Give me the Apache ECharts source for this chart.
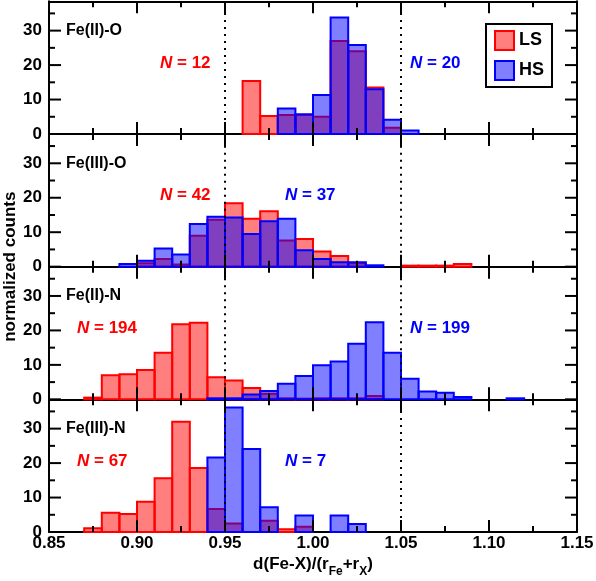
<!DOCTYPE html>
<html><head><meta charset="utf-8">
<script src="https://cdn.jsdelivr.net/npm/echarts@6.0.0/dist/echarts.min.js"></script>
<style>html,body{margin:0;padding:0;background:#fff}#c{width:596px;height:581px}</style>
</head><body><div id="c"></div>
<script>
// ---------------- data ----------------
const binWidth = 0.01;
const binLeft = [0.87,0.88,0.89,0.90,0.91,0.92,0.93,0.94,0.95,0.96,0.97,0.98,0.99,1.00,1.01,1.02,1.03,1.04,1.05,1.06,1.07,1.08,1.09,1.10,1.11];
// Fe(II)-O
const lsFeIIO   = [0,0,0,0,0,0,0,0,0,15.4,5.2,5.5,5.5,5.0,27.0,24.0,13.5,1.8,0,0,0,0,0,0,0];
const hsFeIIO   = [0,0,0,0,0,0,0,0,0,0,0,7.4,5.7,11.3,33.8,25.8,13.0,4.1,1.0,0,0,0,0,0,0];
// Fe(III)-O
const lsFeIIIO  = [0,0,0,1.0,2.2,0.6,9.0,13.6,18.4,13.9,16.1,7.6,8.0,4.4,3.1,1.0,0,0,0.3,0.3,0.3,0.8,0,0,0];
const hsFeIIIO  = [0,0,0.8,1.7,5.3,3.5,12.4,14.5,14.3,9.5,13.2,13.9,4.8,2.2,1.3,1.3,0.4,0,0,0,0,0,0,0,0];
// Fe(II)-N
const lsFeIIN   = [0.5,7.0,7.3,8.5,13.5,21.8,22.2,6.4,5.5,3.3,1.6,0.3,0.2,0.3,0.3,0.3,1.0,0,0,0,0,0,0,0,0];
const hsFeIIN   = [0,0,0,0,0,0,0,0.3,0.3,1.4,2.4,4.5,6.8,9.9,11.0,16.1,22.4,13.5,6.0,2.3,1.9,0.7,0,0,0.3];
// Fe(III)-N
const lsFeIIIN  = [1.1,5.6,5.2,8.8,15.6,32.0,18.6,6.7,2.5,0,3.3,0.8,1.5,0,0,0,0,0,0,0,0,0,0,0,0];
const hsFeIIIN  = [0,0,0,0,0,0,0,21.6,36.1,24.1,7.2,0,4.8,0,4.8,2.3,0,0,0,0,0,0,0,0,0];

const panelNames = ['Fe(II)-O','Fe(III)-O','Fe(II)-N','Fe(III)-N'];
const nLS = [12, 42, 194, 67];
const nHS = [20, 37, 199, 7];
const seriesNames = ['LS','HS'];
const xTicks = [0.85,0.90,0.95,1.00,1.05,1.10,1.15];
const xMinorTicks = [0.875,0.925,0.975,1.025,1.075,1.125];
const yTicks = [0,10,20,30];
const yMinorTicks = [5,15,25,35];
const guideLines = [0.95, 1.05];
const yMax = 38.5;
const xTitleRich = '{a|d(Fe-X)/(r}{s|Fe}{a|+r}{s|X}{a|)}';
const yTitle = 'normalized counts';

const lsPanels = [lsFeIIO, lsFeIIIO, lsFeIIN, lsFeIIIN];
const hsPanels = [hsFeIIO, hsFeIIIO, hsFeIIN, hsFeIIIN];

// ---------------- layout ----------------
const FONT = 'Liberation Sans';
const LEFT = 49, RIGHTX = 577, W = RIGHTX - LEFT;
const TOP0 = 1.33, PH = 132.67;
const LS_FILL = 'rgba(255,0,0,0.5)', LS_LINE = '#ff0000';
const HS_FILL = 'rgba(0,0,255,0.5)', HS_LINE = '#0000ff';
const MAJOR_LEN = 12, MINOR_LEN = 6;

const chart = echarts.init(document.getElementById('c'), null, {renderer:'canvas'});
const lineSt = {color:'#000', width:2};
const grids = [], xAxes = [], yAxes = [], series = [], titles = [];

function histSeries(name, values, fill, stroke, xi, yi) {
  return {
    name, type:'custom', xAxisIndex:xi, yAxisIndex:yi, coordinateSystem:'cartesian2d',
    encode:{x:0, y:1}, silent:true, animation:false,
    itemStyle:{color:fill, borderColor:stroke, borderWidth:2},
    data: binLeft.map((b,k)=>[b, values[k]]).filter(d=>d[1] > 0),
    renderItem(p, api) {
      const a = api.coord([api.value(0), 0]);
      const b = api.coord([api.value(0) + binWidth, api.value(1)]);
      return {type:'rect', shape:{x:a[0], y:b[1], width:b[0]-a[0], height:a[1]-b[1]},
        style:{fill, stroke, lineWidth:2}};
    }
  };
}

// tick marks on all four sides of a panel, placed through the axes' scales
// rows: [value, kind]  kind 0 = x major, 1 = x minor, 2 = y major, 3 = y minor
const tickRows = [].concat(
  xTicks.map(v=>[v,0]), xMinorTicks.map(v=>[v,1]),
  yTicks.map(v=>[v,2]), yMinorTicks.map(v=>[v,3]));
function tickSeries(xi, yi) {
  const xMin = xTicks[0], xMax = xTicks[xTicks.length-1];
  return {
    type:'custom', xAxisIndex:xi, yAxisIndex:yi, z:11, silent:true, animation:false, clip:false,
    data: tickRows, encode:{x:0},
    renderItem(p, api) {
      const v = api.value(0), kind = api.value(1);
      const len = (kind === 0 || kind === 2) ? MAJOR_LEN : MINOR_LEN;
      const st = {stroke:'#000', lineWidth:2};
      if (kind < 2) {
        const b = api.coord([v, 0]), t = api.coord([v, yMax]);
        return {type:'group', children:[
          {type:'line', shape:{x1:b[0], y1:b[1], x2:b[0], y2:b[1]-len}, style:st},
          {type:'line', shape:{x1:t[0], y1:t[1], x2:t[0], y2:t[1]+len}, style:st}]};
      }
      const l = api.coord([xMin, v]), r = api.coord([xMax, v]);
      return {type:'group', children:[
        {type:'line', shape:{x1:l[0], y1:l[1], x2:l[0]+len, y2:l[1]}, style:st},
        {type:'line', shape:{x1:r[0], y1:r[1], x2:r[0]-len, y2:r[1]}, style:st}]};
    }
  };
}

for (let i = 0; i < 4; i++) {
  const top = TOP0 + i*PH;
  grids.push({left:LEFT, top, width:W, height:PH, containLabel:false, outerBoundsMode:'none'});
  const baseX = {gridIndex:i, type:'value', min:xTicks[0], max:xTicks[xTicks.length-1], interval:0.05,
    splitLine:{show:false}, axisLine:{show:true, onZero:false, lineStyle:lineSt},
    axisTick:{show:false}, minorTick:{show:false}, minorSplitLine:{show:false}};
  const bottomX = Object.assign({}, baseX, {position:'bottom',
    axisLabel:{show:true, color:'#000', fontFamily:FONT, fontWeight:'bold', fontSize:17, margin:3,
      formatter:(v)=> i === 3 ? v.toFixed(2) : ''}});
  if (i === 3) {
    Object.assign(bottomX, {name:xTitleRich, nameLocation:'middle', nameGap:24,
      nameTextStyle:{verticalAlign:'top', rich:{
        a:{fontSize:17, fontWeight:'bold', fontFamily:FONT, color:'#000', lineHeight:20, verticalAlign:'top'},
        s:{fontSize:12, fontWeight:'bold', fontFamily:FONT, color:'#000', lineHeight:14, padding:[10,0,0,0], verticalAlign:'top'}
      }}});
  }
  xAxes.push(bottomX);
  xAxes.push(Object.assign({}, baseX, {position:'top', axisLabel:{show:true, formatter:()=>''}}));
  const baseY = {gridIndex:i, type:'value', min:yTicks[0], max:yMax, interval:10, splitLine:{show:false},
    axisLine:{show:true, onZero:false, lineStyle:lineSt}, axisTick:{show:false}};
  yAxes.push(Object.assign({}, baseY, {position:'left',
    axisLabel:{show:true, color:'#000', fontFamily:FONT, fontWeight:'bold', fontSize:17, margin:7,
      showMaxLabel:false, formatter:(v)=>yTicks.indexOf(v) >= 0 ? String(v) : ''}}));
  yAxes.push(Object.assign({}, baseY, {position:'right', axisLabel:{show:false}}));

  series.push(histSeries(seriesNames[0], lsPanels[i], LS_FILL, LS_LINE, 2*i, 2*i));
  series.push(histSeries(seriesNames[1], hsPanels[i], HS_FILL, HS_LINE, 2*i, 2*i));
  series.push({type:'custom', xAxisIndex:2*i, yAxisIndex:2*i, z:10, silent:true, animation:false,
    data: guideLines.map(g=>[g]), encode:{x:0},
    renderItem(p, api) {
      const a = api.coord([api.value(0), 0]), b = api.coord([api.value(0), yMax]);
      return {type:'line', shape:{x1:a[0], y1:a[1], x2:b[0], y2:b[1]},
        style:{stroke:'#000', lineWidth:2, lineDash:[2,5]}};
    }});
  series.push(tickSeries(2*i, 2*i));

  const zeroY = top + PH;
  titles.push({text:panelNames[i], left:66, top:zeroY - 103.4 - 10, padding:0,
    textStyle:{color:'#000', fontFamily:FONT, fontWeight:'bold', fontSize:16, lineHeight:20}});
}

// extra full-height grid only to carry the shared y-axis title
grids.push({left:LEFT, top:TOP0, width:W, height:4*PH, containLabel:false, outerBoundsMode:'none'});
xAxes.push({gridIndex:4, type:'value', show:false, min:0, max:1});
yAxes.push({gridIndex:4, type:'value', min:0, max:1, axisLine:{show:false}, axisTick:{show:false},
  axisLabel:{show:false}, splitLine:{show:false},
  name:yTitle, nameLocation:'middle', nameRotate:90, nameGap:30,
  nameTextStyle:{color:'#000', fontFamily:FONT, fontWeight:'bold', fontSize:17}});

const nPos = [[160,410],[160,285],[77,410],[77,285]];
for (let i = 0; i < 4; i++) {
  const cy = TOP0 + (i+1)*PH - 71;
  [[nLS[i], LS_LINE, nPos[i][0]], [nHS[i], HS_LINE, nPos[i][1]]].forEach(([n, col, x]) => {
    titles.push({text:'{i|N}{r| = ' + n + '}', left:x, top:cy - 10, padding:0,
      textStyle:{color:col, fontFamily:FONT, fontWeight:'bold', fontSize:17, lineHeight:20,
        rich:{i:{fontStyle:'italic', fontWeight:'bold', fontSize:17, fontFamily:FONT, color:col, lineHeight:20},
              r:{fontWeight:'bold', fontSize:17, fontFamily:FONT, color:col, lineHeight:20}}}});
  });
}

chart.setOption({
  animation:false, backgroundColor:'#fff',
  title:titles,
  legend:{orient:'vertical', left:486, top:24, padding:[6,8,6,8], itemGap:9,
    itemWidth:19, itemHeight:19, borderColor:'#000', borderWidth:2, borderRadius:0,
    backgroundColor:'#fff', selectedMode:false,
    textStyle:{color:'#000', fontFamily:FONT, fontWeight:'bold', fontSize:18},
    data:[
      {name:seriesNames[0], icon:'rect', itemStyle:{color:LS_FILL, borderColor:LS_LINE, borderWidth:2}},
      {name:seriesNames[1], icon:'rect', itemStyle:{color:HS_FILL, borderColor:HS_LINE, borderWidth:2}}
    ]},
  grid:grids, xAxis:xAxes, yAxis:yAxes, series
});
</script></body></html>
